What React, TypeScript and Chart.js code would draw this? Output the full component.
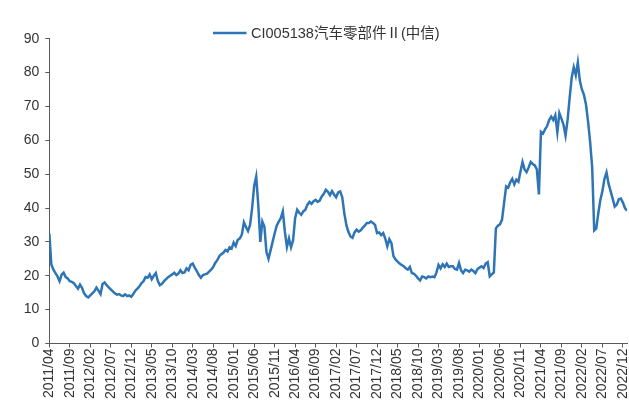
import React, { useEffect, useRef } from "react";
import { Chart, registerables } from "chart.js";

Chart.register(...registerables);

const seriesLabel = "CI005138汽车零部件Ⅱ(中信)";

const tickLabels = [
  "2011/04", "2011/09", "2012/02", "2012/07", "2012/12", "2013/05", "2013/10",
  "2014/03", "2014/08", "2015/01", "2015/06", "2015/11", "2016/04", "2016/09",
  "2017/02", "2017/07", "2017/12", "2018/05", "2018/10", "2019/03", "2019/08",
  "2020/01", "2020/06", "2020/11", "2021/04", "2021/09", "2022/02", "2022/07",
  "2022/12",
];

// semi-monthly readings, starting 2011/04
const values2011_2012 = [
  32.5, 23.3, 21.8, 20.8, 19.8, 18.4, 20.3, 20.9, 19.6, 19.2,
  18.4, 18.2, 17.8, 17.0, 16.2, 17.4, 16.4, 14.8, 14.0, 13.6,
  14.2, 14.8, 15.4, 16.5, 15.6, 14.6, 17.6, 18.0, 17.2, 16.6,
  16.0, 15.4, 14.8, 14.4, 14.6, 14.2, 14.0, 14.5, 14.0, 14.2,
];
const values2013_2014 = [
  13.8, 14.6, 15.6, 16.2, 16.9, 17.8, 18.4, 19.6, 19.4, 20.4,
  19.0, 20.0, 20.8, 18.4, 17.2, 17.6, 18.4, 19.0, 19.6, 20.0,
  20.4, 20.9, 20.2, 20.6, 21.6, 20.8, 21.0, 22.2, 21.6, 23.2,
  23.6, 22.4, 21.4, 20.2, 19.4, 20.2, 20.4, 20.6, 21.2, 21.8,
  22.6, 23.8, 24.6, 25.8, 26.4, 26.8, 27.6, 27.2, 28.4, 28.0,
];
const values2015_2016 = [
  29.8, 28.8, 30.6, 31.0, 32.2, 35.8, 34.4, 33.2, 35.0, 40.0,
  46.5, 49.3, 41.0, 30.0, 36.0, 34.5, 27.0, 25.0, 27.5, 30.0,
  32.5, 34.8, 36.0, 37.0, 39.0, 33.0, 28.5, 31.0, 28.4, 30.5,
  37.0, 39.5, 38.6, 38.0, 39.0, 39.5, 41.0, 41.8, 41.2, 42.0,
  42.4, 41.8, 42.2, 43.4, 44.2, 45.4, 44.8, 43.8, 45.0, 44.0,
];
const values2017_2018 = [
  43.2, 44.6, 44.9, 43.2, 38.5, 35.0, 33.0, 31.6, 31.2, 32.8,
  33.6, 33.0, 33.4, 34.2, 34.8, 35.6, 35.6, 36.0, 35.6, 35.0,
  32.6, 32.8, 32.0, 32.6, 31.0, 28.7, 30.8, 29.6, 25.8, 24.8,
  24.2, 23.6, 23.2, 22.8, 22.2, 21.8, 22.6, 20.8, 20.6, 20.0,
  19.2, 18.6, 19.8, 19.6, 19.2, 19.8, 19.6, 19.8, 19.6, 21.0,
];
const values2019_2020 = [
  23.2, 22.2, 23.4, 22.6, 23.6, 22.6, 22.8, 22.8, 22.0, 21.8,
  23.8, 21.6, 20.8, 21.8, 21.6, 21.2, 21.8, 21.4, 20.8, 22.0,
  22.4, 22.8, 22.3, 23.6, 24.0, 19.8, 20.4, 21.0, 34.0, 34.8,
  35.2, 36.6, 41.5, 46.4, 46.0, 47.6, 48.6, 47.0, 48.4, 47.8,
  50.8, 53.6, 51.4, 50.6, 52.0, 53.6, 53.0, 52.6, 51.4, 44.0,
];
const values2021_2022 = [
  62.5, 62.0, 63.2, 64.2, 66.0, 67.0, 66.0, 67.4, 62.4, 68.0,
  66.4, 64.6, 61.4, 66.0, 72.5, 78.5, 81.6, 79.2, 83.0, 77.5,
  75.0, 73.4, 70.5, 65.5, 59.5, 52.0, 33.4, 34.0, 38.5, 42.4,
  45.0, 48.6, 50.5, 47.2, 45.0, 42.8, 40.4, 41.0, 42.6, 42.8,
  41.6, 40.0, 39.2,
];

const values = [
  ...values2011_2012,
  ...values2013_2014,
  ...values2015_2016,
  ...values2017_2018,
  ...values2019_2020,
  ...values2021_2022,
];

const LINE_COLOR = "#2E75B6";
const TEXT_COLOR = "#333333";
const AXIS_COLOR = "#595959";
const FONT_FAMILY = '"Liberation Sans", Arial, "Noto Sans CJK SC", sans-serif';

const legendPlugin = {
  id: "topLegend",
  afterDraw(chart: any) {
    const ctx = chart.ctx;
    const ds = chart.data.datasets[0];
    ctx.save();
    ctx.strokeStyle = ds.borderColor;
    ctx.lineWidth = 2.5;
    ctx.beginPath();
    ctx.moveTo(213, 33);
    ctx.lineTo(246.5, 33);
    ctx.stroke();
    ctx.fillStyle = TEXT_COLOR;
    ctx.font = "14.5px " + FONT_FAMILY;
    ctx.textBaseline = "middle";
    ctx.textAlign = "left";
    ctx.fillText(ds.label, 251, 33.5);
    ctx.restore();
  },
};

export default function App() {
  const canvasRef = useRef<HTMLCanvasElement | null>(null);

  useEffect(() => {
    if (!canvasRef.current) return;
    const points = values.map((v, i) => ({ x: i, y: v }));
    const chart = new Chart(canvasRef.current, {
      type: "line",
      data: {
        datasets: [
          {
            label: seriesLabel,
            data: points,
            borderColor: LINE_COLOR,
            backgroundColor: LINE_COLOR,
            borderWidth: 2.5,
            pointRadius: 0,
            tension: 0,
            fill: false,
          },
        ],
      },
      plugins: [legendPlugin],
      options: {
        animation: false,
        responsive: true,
        maintainAspectRatio: false,
        layout: { padding: { top: 38.7, right: 2, bottom: 0, left: 0 } },
        plugins: {
          legend: { display: false },
          tooltip: { enabled: false },
        },
        scales: {
          x: {
            type: "linear",
            min: 0,
            max: values.length - 1,
            afterBuildTicks: (scale: any) => {
              scale.ticks = tickLabels.map((_, k) => ({ value: k * 10 }));
            },
            afterFit: (scale: any) => {
              scale.height = 59.5;
              scale.paddingLeft = 0;
              scale.paddingRight = 0;
            },
            ticks: {
              autoSkip: false,
              minRotation: 90,
              maxRotation: 90,
              padding: 1,
              color: TEXT_COLOR,
              font: { size: 14, family: FONT_FAMILY },
              callback: (v: any) => {
                const k = Math.round(Number(v) / 10);
                return tickLabels[k] ?? "";
              },
            },
            grid: {
              drawOnChartArea: false,
              drawTicks: true,
              tickLength: 4,
              color: AXIS_COLOR,
            },
            border: { display: true, color: AXIS_COLOR, width: 1 },
          },
          y: {
            min: 0,
            max: 90,
            afterFit: (scale: any) => {
              scale.width = 49.3;
            },
            ticks: {
              stepSize: 10,
              padding: 6,
              color: TEXT_COLOR,
              font: { size: 14, family: FONT_FAMILY },
            },
            grid: {
              drawOnChartArea: false,
              drawTicks: true,
              tickLength: 4,
              color: AXIS_COLOR,
            },
            border: { display: true, color: AXIS_COLOR, width: 1 },
          },
        },
      },
    });
    return () => chart.destroy();
  }, []);

  return (
    <div style={{ position: "absolute", left: 0, top: 0, width: 629, height: 403 }}>
      <canvas ref={canvasRef} />
    </div>
  );
}
